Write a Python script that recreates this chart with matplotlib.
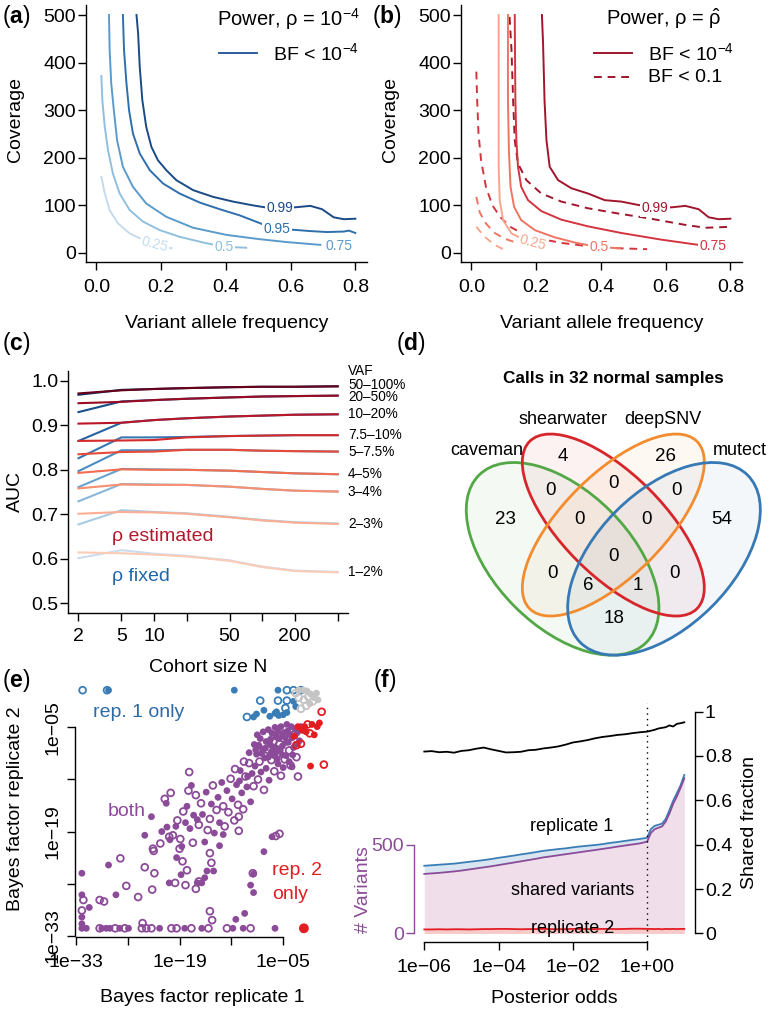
import matplotlib
matplotlib.use('Agg')
import matplotlib.pyplot as plt
from matplotlib.patches import Ellipse
from matplotlib.lines import Line2D

plt.rcParams['font.family'] = ['Liberation Sans', 'DejaVu Sans']
plt.rcParams['mathtext.fontset'] = 'custom'
plt.rcParams['mathtext.rm'] = 'Liberation Sans'
plt.rcParams['mathtext.it'] = 'Liberation Sans:italic'
plt.rcParams['mathtext.bf'] = 'Liberation Sans:bold'
plt.rcParams['axes.linewidth'] = 1.0

FS = 14  # main text size

# ---------------- data: panel (a) power contours, rho = 1e-4 ----------------
a_levels = ['0.25', '0.5', '0.75', '0.95', '0.99']
a_vaf = [
    [0.0154, 0.026, 0.041, 0.067, 0.103, 0.134, 0.180, 0.232],
    [0.0154, 0.0185, 0.026, 0.036, 0.051, 0.072, 0.103, 0.144, 0.196, 0.257, 0.330, 0.395, 0.463],
    [0.039, 0.041, 0.046, 0.054, 0.064, 0.082, 0.113, 0.154, 0.216, 0.299, 0.402, 0.504, 0.587, 0.692],
    [0.082, 0.0855, 0.093, 0.101, 0.113, 0.134, 0.165, 0.206, 0.257, 0.319, 0.381, 0.443, 0.515, 0.558, 0.604, 0.661, 0.712, 0.764, 0.780, 0.800],
    [0.124, 0.129, 0.134, 0.142, 0.154, 0.170, 0.190, 0.216, 0.247, 0.299, 0.360, 0.422, 0.484, 0.520, 0.566, 0.615, 0.661, 0.697, 0.733, 0.764, 0.800],
]
a_cov = [
    [160, 125, 90, 62, 41, 31, 18, 10],
    [372, 321, 265, 216, 167, 125, 90, 66, 48, 34, 22, 13, 11],
    [500, 426, 356, 300, 237, 181, 139, 104, 76, 53, 38, 29, 23, 17],
    [500, 426, 356, 300, 251, 209, 174, 146, 125, 106, 92, 79, 60, 52, 49, 46, 44, 45, 47, 42],
    [500, 461, 391, 321, 265, 223, 195, 174, 153, 132, 118, 108, 100, 96, 95, 96, 99, 92, 75, 71, 72],
]
a_lab_pos = [(0.180, 18), (0.395, 12), (0.749, 15), (0.558, 51), (0.566, 94)]
a_lab_rot = [-14, 0, 0, 0, 0]
a_colors = ['#C4DBED', '#90C0DE', '#5B9BCB', '#2F6FAB', '#1B4A86']

# ---------------- data: panel (b) power contours, rho = rho-hat ----------------
b_levels = ['0.25', '0.5', '0.75', '0.99']
b_vaf_solid = [
    [0.0844, 0.0844, 0.0875, 0.098, 0.124, 0.154, 0.185, 0.221],
    [0.113, 0.113, 0.116, 0.121, 0.132, 0.154, 0.196, 0.257, 0.319, 0.395, 0.46],
    [0.134, 0.136, 0.139, 0.144, 0.154, 0.175, 0.216, 0.278, 0.360, 0.463, 0.587, 0.702],
    [0.218, 0.2215, 0.226, 0.232, 0.242, 0.268, 0.309, 0.360, 0.412, 0.463, 0.515, 0.568, 0.620, 0.661, 0.702, 0.733, 0.764, 0.800],
]
b_cov_solid = [
    [500, 181, 111, 69, 41, 31, 21, 10],
    [500, 321, 216, 139, 97, 69, 48, 33, 22, 12, 10],
    [500, 321, 237, 181, 139, 111, 88, 70, 56, 42, 28, 17],
    [500, 440, 321, 237, 181, 153, 136, 125, 111, 108, 101, 95, 96, 99, 92, 75, 71, 72],
]
b_vaf_dash = [
    [0.0154, 0.041, 0.072, 0.098],
    [0.0154, 0.026, 0.045, 0.072, 0.103, 0.146, 0.200],
    [0.0154, 0.018, 0.022, 0.030, 0.045, 0.065, 0.090, 0.120, 0.160, 0.210, 0.280, 0.350, 0.450, 0.543],
    [0.118, 0.124, 0.129, 0.134, 0.144, 0.170, 0.216, 0.278, 0.360, 0.453, 0.546, 0.661, 0.723, 0.800],
]
b_cov_dash = [
    [55, 34, 17, 8],
    [118, 85, 62, 42, 30, 20, 11],
    [381, 321, 251, 195, 139, 100, 75, 55, 40, 30, 21, 15, 10, 8],
    [496, 426, 321, 237, 188, 153, 125, 108, 94, 83, 73, 59, 53, 55],
]
b_lab_pos = [(0.19, 21), (0.395, 12), (0.745, 14), (0.568, 94)]
b_lab_rot = [-15, 0, 0, 0]
b_colors = ['#F6A88E', '#EE7562', '#D4343F', '#A0162C']

# ---------------- data: panel (c) AUC vs cohort size ----------------
cohort_N = [2, 5, 10, 20, 50, 100, 200, 500]
vaf_classes = ['1–2%', '2–3%', '3–4%', '4–5%', '5–7.5%', '7.5–10%', '10–20%', '20–50%', '50–100%']
auc_estimated = [
    [0.614, 0.612, 0.609, 0.605, 0.595, 0.581, 0.572, 0.569],
    [0.701, 0.705, 0.704, 0.701, 0.693, 0.686, 0.681, 0.678],
    [0.758, 0.767, 0.766, 0.766, 0.762, 0.757, 0.753, 0.751],
    [0.793, 0.801, 0.800, 0.800, 0.798, 0.795, 0.792, 0.790],
    [0.835, 0.840, 0.841, 0.845, 0.845, 0.843, 0.842, 0.841],
    [0.865, 0.866, 0.867, 0.873, 0.876, 0.877, 0.878, 0.878],
    [0.904, 0.906, 0.912, 0.916, 0.920, 0.922, 0.924, 0.925],
    [0.950, 0.953, 0.957, 0.960, 0.963, 0.965, 0.966, 0.967],
    [0.972, 0.979, 0.982, 0.984, 0.986, 0.987, 0.987, 0.988],
]
auc_fixed = [
    [0.601, 0.619, 0.611, 0.606, 0.596, 0.582, 0.573, 0.570],
    [0.677, 0.709, 0.705, 0.702, 0.694, 0.687, 0.682, 0.679],
    [0.729, 0.768, 0.767, 0.766, 0.762, 0.757, 0.753, 0.751],
    [0.761, 0.802, 0.801, 0.800, 0.798, 0.795, 0.792, 0.790],
    [0.797, 0.844, 0.844, 0.845, 0.845, 0.843, 0.842, 0.841],
    [0.826, 0.873, 0.873, 0.874, 0.876, 0.877, 0.878, 0.878],
    [0.865, 0.906, 0.912, 0.916, 0.920, 0.922, 0.924, 0.925],
    [0.930, 0.954, 0.957, 0.960, 0.963, 0.965, 0.966, 0.967],
    [0.969, 0.980, 0.982, 0.984, 0.986, 0.987, 0.987, 0.988],
]
vaf_label_y = [0.569, 0.678, 0.751, 0.790, 0.841, 0.878, 0.925, 0.964, 0.991]
c_reds = ['#FCCBB5', '#FBAE93', '#F98F71', '#F26D4F', '#E84A37', '#D42C2A', '#BA1627', '#9A0B22', '#690019']
c_blues = ['#C9DDEF', '#A9CBE4', '#88B7D9', '#68A2CC', '#4C8DC0', '#3878B2', '#2763A0', '#184E8A', '#0B3568']

# ---------------- data: panel (d) Venn ----------------
venn_sets = ['caveman', 'shearwater', 'deepSNV', 'mutect']
venn_set_colors = ['#53A846', '#D7262B', '#F28C2E', '#3679B4']
venn_counts = [4, 26, 23, 54, 0, 0, 0, 0, 0, 0, 0, 0, 6, 1, 18]

# ---------------- data: panel (e) Bayes factor scatter (log10 BF) ----------------
purple_bf1 = [-32.2, -32.2, -32.2, -32.2, -32.0, -32.2, -32.2, -31.6, -31.2, -29.8, -29.5, -29.8, -29.2, -28.9, -28.4,
              -28.6, -27.6, -27.0, -27.7, -27.1, -26.4, -25.9, -26.2, -24.6, -24.1, -23.5, -24.0, -23.7, -22.8, -22.7,
              -22.5, -22.4, -21.7, -20.4, -20.3, -20.2, -20.1, -19.6, -19.4, -19.4, -19.0, -18.8, -18.6, -18.3, -18.2,
              -18.0, -17.7, -17.4, -17.4, -16.8, -16.6, -16.4, -16.0, -16.0, -15.6, -15.3, -15.1, -14.9, -14.9, -14.6,
              -14.7, -14.4, -13.6, -13.1, -12.6, -11.8, -11.4, -11.0, -11.0, -10.4, -10.2, -9.4, -9.4, -9.1, -9.0,
              -9.0, -7.6, -6.1, -6.5, -6.0, -5.5,
              -23.7, -22.8, -22.6, -21.6, -21.4, -21.0, -20.8, -20.7, -20.4, -19.9, -19.5, -19.3, -18.9, -18.7, -18.5,
              -18.2, -18.0, -17.8, -17.6, -17.2, -17.1, -16.8, -16.6, -16.4, -16.1, -15.9, -15.6, -15.4, -15.2, -14.9,
              -14.7, -14.5, -14.3, -14.0, -13.8, -13.6, -13.3, -13.1, -12.9, -12.6, -12.4, -12.1, -11.9, -11.6, -11.3,
              -11.1, -10.8, -10.6, -10.4, -10.1, -9.9, -9.6, -9.4, -9.2, -9.0, -8.8, -8.6, -8.4, -8.2, -8.0,
              -7.8, -7.6, -7.5, -7.3, -7.1, -6.9, -6.7, -6.6, -6.4, -6.2, -6.0, -5.9, -5.7, -5.5, -5.3,
              -5.1, -5.0, -4.8, -4.6, -4.4, -4.2, -4.0, -3.8, -3.6, -3.4, -3.2, -3.0, -2.8, -2.6,
              -8.5, -8.1, -7.7, -7.3, -7.0, -6.8, -6.5, -6.3, -6.1, -5.9, -5.7, -5.5, -5.3, -5.1, -4.9,
              -4.7, -4.5, -4.3, -4.1, -3.9, -3.7, -3.5, -3.3, -3.1, -8.9, -8.7, -8.3, -7.9, -7.4, -7.0,
              -6.6, -6.2, -5.8, -5.4, -5.0, -4.6, -4.2, -3.8, -9.6, -9.8, -10.3, -10.9, -11.5]
purple_bf2 = [-31.4, -30.5, -29.6, -32.0, -28.2, -27.5, -24.6, -32.0, -29.2, -32.0, -32.0, -28.2, -28.4, -32.0, -32.0,
              -23.5, -27.5, -22.6, -32.0, -32.0, -32.0, -32.0, -26.3, -27.8, -32.0, -32.0, -31.3, -23.8, -32.0, -26.8,
              -21.6, -24.6, -32.0, -25.9, -20.1, -13.8, -32.0, -25.9, -32.0, -22.5, -21.3, -24.8, -23.0, -32.0, -26.2,
              -24.2, -11.0, -12.8, -32.0, -26.7, -25.9, -25.7, -32.0, -25.9, -25.2, -24.3, -32.0, -21.9, -29.7, -30.9,
              -23.2, -24.3, -20.9, -19.4, -32.0, -32.0, -30.8, -18.9, -17.0, -32.0, -30.0, -32.0, -26.2, -24.6, -27.2,
              -24.7, -21.7, -32.0, -19.7, -19.6, -19.3,
              -19.5, -17.0, -21.3, -20.6, -19.0, -14.6, -15.2, -18.4, -19.7, -19.5, -18.3, -17.5, -20.0, -21.0, -16.3,
              -17.8, -15.6, -13.5, -18.6, -20.5, -16.8, -14.1, -17.4, -18.1, -15.2, -16.7, -20.4, -13.7, -18.8, -17.3,
              -15.3, -12.8, -19.2, -16.1, -14.4, -17.8, -12.4, -15.6, -18.3, -13.5, -16.4, -11.9, -14.6, -17.5, -12.7,
              -15.4, -10.8, -13.8, -16.0, -11.6, -13.0, -9.8, -15.0, -11.2, -12.9, -10.2, -8.6, -12.0, -9.6, -11.0,
              -7.9, -13.4, -9.1, -10.5, -8.0, -12.1, -6.6, -9.4, -7.6, -10.9, -8.4, -6.3, -9.9, -7.2, -11.5,
              -8.7, -6.1, -9.3, -7.0, -5.5, -8.1, -10.1, -6.4, -7.7, -5.2, -9.0, -11.6, -6.8, -4.9,
              -6.0, -6.5, -5.6, -6.9, -5.3, -7.2, -5.8, -6.9, -5.0, -7.8, -5.6, -6.5, -4.9, -7.5, -5.7,
              -6.3, -4.6, -7.0, -5.9, -4.9, -8.7, -6.0, -7.3, -5.7, -7.3, -8.0, -7.4, -8.5, -7.8, -9.0,
              -8.3, -8.8, -9.2, -8.1, -10.4, -8.8, -9.6, -10.3, -8.4, -11.6, -9.6, -12.2, -10.6]
purple_open = [0, 0, 1, 0, 1, 0, 0, 0, 0, 1, 0, 1, 1, 0, 0,
               0, 0, 1, 1, 0, 1, 0, 1, 1, 1, 1, 1, 1, 1, 1,
               1, 1, 0, 0, 0, 1, 1, 1, 1, 0, 1, 0, 1, 0, 1,
               1, 1, 0, 1, 1, 0, 1, 0, 0, 0, 0, 1, 1, 1, 1,
               1, 0, 0, 0, 1, 0, 0, 1, 1, 0, 0, 1, 0, 1, 0,
               0, 0, 0, 0, 1, 1,
               0, 0, 1, 1, 0, 1, 0, 0, 1, 1, 0, 1, 1, 0, 1,
               0, 0, 1, 0, 1, 0, 1, 0, 1, 1, 0, 0, 0, 1, 1,
               0, 1, 0, 1, 0, 0, 0, 1, 1, 0, 1, 1, 0, 1, 0,
               1, 0, 0, 1, 1, 0, 1, 0, 0, 1, 0, 0, 1, 1, 0,
               0, 1, 0, 0, 1, 0, 0, 1, 0, 1, 0, 0, 0, 1, 1,
               0, 0, 1, 0, 0, 1, 1, 0, 0, 0, 1, 1, 0, 0,
               0, 0, 0, 0, 0, 0, 0, 1, 0, 0, 0, 0, 0, 0, 0,
               0, 0, 0, 0, 0, 0, 1, 0, 0, 0, 0, 0, 0, 0, 0,
               0, 0, 0, 0, 0, 0, 0, 0, 0, 0, 1, 0, 1]
blue_bf1 = [-32.1, -28.8, -28.6, -11.6, -5.7, -4.5, -3.6, -2.6, -8.1, -5.7, -4.5, -3.6, -9.9, -9.0, -8.6, -7.6, -6.1, -5.6, -5.0, -4.5, -4.7, -3.3, -6.8, -5.9]
blue_bf2 = [0.0, 0.0, 0.0, 0.0, 0.0, 0.0, 0.0, 0.0, -1.4, -1.4, -1.4, -1.5, -3.6, -3.6, -3.2, -2.7, -3.1, -3.4, -3.3, -3.0, -2.4, -2.2, -3.5, -2.9]
blue_open = [1, 1, 0, 0, 0, 1, 1, 1, 1, 1, 1, 0, 1, 0, 0, 0, 0, 0, 0, 0, 1, 0, 0, 0]
grey_bf1 = [-2.9, -2.3, -1.8, -1.3, -0.8, -1.6, -2.2, -2.9, -3.3, -1.0, -1.9, -2.6, -0.5, -0.3, -1.4]
grey_bf2 = [0.0, 0.0, -0.1, -0.5, -1.0, -0.9, -1.3, -1.0, -0.4, -1.5, -2.1, -2.5, -0.4, -1.3, -1.8]
grey_open = [0, 0, 0, 0, 0, 1, 1, 1, 1, 1, 1, 1, 0, 0, 0]
red_bf1 = [-3.0, -2.4, -2.1, -1.7, -1.1, -0.4, -0.1, 0.2, -0.8, -1.4, -1.9, -3.2, -2.6, -3.5, -1.3, 0.5]
red_bf2 = [-4.9, -5.4, -4.9, -4.6, -4.6, -4.9, -4.4, -2.9, -6.0, -5.8, -5.6, -7.4, -7.2, -6.2, -10.2, -10.0]
red_open = [0, 0, 0, 1, 0, 0, 0, 1, 0, 1, 0, 1, 1, 0, 0, 1]
red_extra_bf1 = [-2.2]
red_extra_bf2 = [-32.0]

# ---------------- data: panel (f) replicate concordance ----------------
post_log10_odds = [-6.0, -5.8, -5.6, -5.4, -5.2, -5.0, -4.8, -4.6, -4.4, -4.2, -4.0, -3.8, -3.6, -3.4, -3.2, -3.0,
                   -2.8, -2.6, -2.4, -2.2, -2.0, -1.8, -1.6, -1.4, -1.2, -1.0, -0.8, -0.6, -0.4, -0.2, 0.0,
                   0.1, 0.2, 0.3, 0.4, 0.5, 0.6, 0.7, 0.8, 0.9, 1.0]
n_rep1 = [381, 384, 387, 390, 393, 398, 403, 408, 413, 419, 426, 432, 438, 445, 451, 458,
          465, 470, 475, 479, 485, 490, 494, 498, 503, 510, 515, 521, 527, 532, 539,
          588, 606, 612, 619, 645, 695, 748, 790, 835, 893]
n_shared = [335, 338, 341, 345, 349, 354, 360, 366, 372, 378, 385, 392, 399, 406, 413, 420,
            428, 434, 440, 446, 452, 458, 464, 470, 476, 482, 489, 495, 501, 507, 517,
            566, 587, 595, 603, 630, 676, 730, 772, 820, 874]
n_rep2 = [22, 22, 23, 22, 23, 23, 22, 23, 24, 24, 25, 25, 24, 23, 24, 24,
          25, 24, 23, 24, 25, 25, 24, 24, 25, 25, 24, 25, 26, 26, 25,
          25, 24, 25, 23, 25, 24, 25, 24, 25, 25]
shared_frac = [0.820, 0.822, 0.817, 0.819, 0.815, 0.823, 0.826, 0.833, 0.838, 0.830, 0.823, 0.816, 0.817, 0.819, 0.826, 0.828,
               0.834, 0.838, 0.843, 0.851, 0.861, 0.866, 0.872, 0.880, 0.886, 0.890, 0.895, 0.898, 0.903, 0.907, 0.910,
               0.914, 0.918, 0.924, 0.927, 0.930, 0.938, 0.933, 0.945, 0.948, 0.952]

# =====================================================================
W, H = 772, 1014
fig = plt.figure(figsize=(W / 100, H / 100), dpi=100)


def px_axes(x0, y0, x1, y1):
    return fig.add_axes([x0 / W, 1 - y1 / H, (x1 - x0) / W, (y1 - y0) / H])


def rstyle(ax, xpad=6, ypad=1.5):
    ax.spines['top'].set_visible(False)
    ax.spines['right'].set_visible(False)
    ax.tick_params(axis='both', direction='out', length=5.8, width=1.0, labelsize=FS)
    ax.tick_params(axis='x', pad=xpad)
    ax.tick_params(axis='y', pad=ypad)


def panel_label(x, y, letter):
    fig.text(x / W, 1 - y / H, r'($\mathbf{' + letter + r'}$)', fontsize=16.5, ha='left', va='center')


def contour_lines(ax, vafs, covs, colors, ls='-', lw=1.4):
    for v, c, col in zip(vafs, covs, colors):
        if ls == '--':
            ax.plot(v, c, color=col, lw=lw, dashes=(4, 3), zorder=2)
        else:
            ax.plot(v, c, color=col, lw=lw, zorder=2)


def contour_labels(ax, levels, pos, rots, colors):
    for lev, (x, y), r, col in zip(levels, pos, rots, colors):
        ax.text(x, y, lev, color=col, fontsize=10, ha='center', va='center', rotation=r, zorder=4,
                bbox=dict(facecolor='white', edgecolor='none', pad=1.0))


# ---------------- panel (a) ----------------
axA = px_axes(86, 5.5, 367, 262.5)
rstyle(axA)
axA.set_xlim(-0.032, 0.836)
axA.set_ylim(-20, 520)
contour_lines(axA, a_vaf, a_cov, a_colors)
contour_labels(axA, a_levels, a_lab_pos, a_lab_rot, a_colors)
axA.set_xticks([0, 0.2, 0.4, 0.6, 0.8])
axA.set_xticklabels(['0.0', '0.2', '0.4', '0.6', '0.8'])
axA.set_yticks([0, 100, 200, 300, 400, 500])
axA.set_ylabel('Coverage', fontsize=FS)
axA.yaxis.set_label_coords(-0.22, 0.556)
axA.set_xlabel('Variant allele frequency', fontsize=FS)
axA.xaxis.set_label_coords(0.5, -0.205)
fig.text(217 / W, 1 - 19 / H, r'Power, ρ = $10^{-4}$', fontsize=14.5, ha='left', va='center')
fig.add_artist(Line2D([219 / W, 257 / W], [1 - 53 / H, 1 - 53 / H], color='#2B5C99', lw=1.4))
fig.text(273 / W, 1 - 53 / H, r'BF < $10^{-4}$', fontsize=FS, ha='left', va='center')
panel_label(2, 17, 'a')

# ---------------- panel (b) ----------------
axB = px_axes(461, 5.5, 742, 262.5)
rstyle(axB)
axB.set_xlim(-0.032, 0.836)
axB.set_ylim(-20, 520)
contour_lines(axB, b_vaf_dash, b_cov_dash, b_colors, ls='--')
contour_lines(axB, b_vaf_solid, b_cov_solid, b_colors)
contour_labels(axB, b_levels, b_lab_pos, b_lab_rot, b_colors)
axB.set_xticks([0, 0.2, 0.4, 0.6, 0.8])
axB.set_xticklabels(['0.0', '0.2', '0.4', '0.6', '0.8'])
axB.set_yticks([0, 100, 200, 300, 400, 500])
axB.set_ylabel('Coverage', fontsize=FS)
axB.yaxis.set_label_coords(-0.22, 0.556)
axB.set_xlabel('Variant allele frequency', fontsize=FS)
axB.xaxis.set_label_coords(0.5, -0.205)
fig.text(606 / W, 1 - 19 / H, r'Power, ρ = $\hat{\mathrm{\rho}}$', fontsize=14.5, ha='left', va='center')
fig.add_artist(Line2D([594 / W, 632 / W], [1 - 53 / H, 1 - 53 / H], color='#A0162C', lw=1.4))
fig.add_artist(Line2D([594 / W, 632 / W], [1 - 77 / H, 1 - 77 / H], color='#A0162C', lw=1.4, dashes=(4, 3)))
fig.text(648 / W, 1 - 53 / H, r'BF < $10^{-4}$', fontsize=FS, ha='left', va='center')
fig.text(648 / W, 1 - 77 / H, 'BF < 0.1', fontsize=FS, ha='left', va='center')
panel_label(372, 17, 'b')

# ---------------- panel (c) ----------------
axC = px_axes(68, 371, 348, 613)
rstyle(axC, xpad=5, ypad=1)
axC.set_xscale('log')
axC.set_xlim(1.6, 623)
axC.set_ylim(0.4775, 1.0225)
for vals, col in zip(auc_fixed, c_blues):
    axC.plot(cohort_N, vals, color=col, lw=1.5)
for vals, col in zip(auc_estimated, c_reds):
    axC.plot(cohort_N, vals, color=col, lw=1.5)
axC.set_xticks(cohort_N)
axC.set_xticklabels(['2', '5', '10', '', '50', '', '200', ''])
axC.minorticks_off()
axC.set_yticks([0.5, 0.6, 0.7, 0.8, 0.9, 1.0])
axC.set_yticklabels(['0.5', '0.6', '0.7', '0.8', '0.9', '1.0'])
trC = axC.get_yaxis_transform()
for lab, yl in zip(vaf_classes, vaf_label_y):
    axC.text(1.0, yl, lab, transform=trC, fontsize=9.8, ha='left', va='center', clip_on=False)
axC.text(1.0, 1.022, 'VAF', transform=trC, fontsize=9.8, ha='left', va='center', clip_on=False)
axC.text(4.05, 0.649, 'ρ estimated', color='#B2182B', fontsize=14, ha='left', va='center')
axC.text(4.05, 0.559, 'ρ fixed', color='#2166AC', fontsize=14, ha='left', va='center')
axC.set_ylabel('AUC', fontsize=FS)
axC.yaxis.set_label_coords(-0.157, 0.5)
axC.set_xlabel('Cohort size N', fontsize=FS)
axC.xaxis.set_label_coords(0.5, -0.19)
panel_label(2, 343, 'c')

# ---------------- panel (d) ----------------
axD = px_axes(444.3, 379.7, 782.3, 717.7)
axD.set_xlim(0, 1)
axD.set_ylim(0, 1)
axD.axis('off')
ell_geom = [((0.35, 0.47), 0.70, 0.40, -45), ((0.50, 0.57), 0.70, 0.30, -45),
            ((0.50, 0.57), 0.70, 0.30, 45), ((0.65, 0.47), 0.70, 0.40, 45)]
for (cxy, w, h, ang), col in zip(ell_geom, venn_set_colors):
    axD.add_patch(Ellipse(cxy, w, h, angle=ang, facecolor=col, alpha=0.06, edgecolor='none'))
for (cxy, w, h, ang), col in zip(ell_geom, venn_set_colors):
    axD.add_patch(Ellipse(cxy, w, h, angle=ang, facecolor='none', edgecolor=col, lw=2.0))
region_pos = [(0.352, 0.772), (0.653, 0.772), (0.180, 0.585), (0.821, 0.585),
              (0.313, 0.672), (0.500, 0.693), (0.688, 0.672), (0.401, 0.585), (0.599, 0.585),
              (0.500, 0.478), (0.321, 0.427), (0.680, 0.427), (0.426, 0.390), (0.574, 0.390), (0.502, 0.294)]
for (x, y), n in zip(region_pos, venn_counts):
    axD.text(x, y, str(n), fontsize=13.5, ha='center', va='center')
set_pos = [(0.125, 0.792), (0.352, 0.881), (0.648, 0.881), (0.875, 0.792)]
for (x, y), s in zip(set_pos, venn_sets):
    axD.text(x, y, s, fontsize=13, ha='center', va='center', clip_on=False)
fig.text(613 / W, 1 - 378 / H, 'Calls in 32 normal samples', fontsize=12.3, fontweight='bold',
         ha='center', va='center')
panel_label(396, 343, 'd')

# ---------------- panel (e) ----------------
axE = px_axes(75, 680, 330, 936.7)
rstyle(axE, xpad=7, ypad=4)
axE.set_xlim(-33.13, 1.33)
axE.set_ylim(-33.13, 1.37)
axE.spines['left'].set_bounds(-33, -5)
axE.spines['bottom'].set_bounds(-33, -5)
ticksE = [-33, -26, -19, -12, -5]
axE.set_xticks(ticksE)
axE.set_xticklabels(['1e−33', '', '1e−19', '', '1e−05'])
axE.set_yticks(ticksE)
axE.set_yticklabels(['1e−33', '', '1e−19', '', '1e−05'], rotation=90, va='center')

C_PURPLE, C_BLUE, C_RED, C_GREY = '#8B4B98', '#3A7DB6', '#E31D22', '#C4C4C4'


def scatter_group(xs, ys, opens, col, s=24):
    xo = [x for x, o in zip(xs, opens) if o]
    yo = [y for y, o in zip(ys, opens) if o]
    xf = [x for x, o in zip(xs, opens) if not o]
    yf = [y for y, o in zip(ys, opens) if not o]
    axE.scatter(xf, yf, s=s, color=col, edgecolors='none', clip_on=False, zorder=3)
    axE.scatter(xo, yo, s=s, facecolors='none', edgecolors=col, linewidths=1.3, clip_on=False, zorder=3)


scatter_group(purple_bf1, purple_bf2, purple_open, C_PURPLE)
scatter_group(blue_bf1, blue_bf2, blue_open, C_BLUE)
scatter_group(red_bf1, red_bf2, red_open, C_RED)
scatter_group(grey_bf1, grey_bf2, grey_open, C_GREY)
axE.scatter(red_extra_bf1, red_extra_bf2, s=50, color=C_RED, edgecolors='none', zorder=3)
axE.text(-30.7, -3.0, 'rep. 1 only', color='#2C6BA8', fontsize=14, ha='left', va='center')
axE.text(-28.7, -16.3, 'both', color=C_PURPLE, fontsize=14, ha='left', va='center')
axE.text(-6.5, -24.2, 'rep. 2', color=C_RED, fontsize=14, ha='left', va='center')
axE.text(-6.5, -27.4, 'only', color=C_RED, fontsize=14, ha='left', va='center')
axE.set_ylabel('Bayes factor replicate 2', fontsize=FS)
axE.yaxis.set_label_coords(-0.2, 0.5)
axE.set_xlabel('Bayes factor replicate 1', fontsize=FS)
axE.xaxis.set_label_coords(0.5, -0.205)
panel_label(2, 681, 'e')

# ---------------- panel (f) ----------------
axF = px_axes(413.9, 702.8, 694.7, 942.2)
axF.set_xlim(-6.28, 1.28)
axF.set_ylim(-50, 1300)
C_FP = '#8B4B98'
axF.fill_between(post_log10_odds, 0, n_shared, color='#F0DEEA', lw=0)
axF.fill_between(post_log10_odds, n_shared, n_rep1, color='#D9E6F1', lw=0)
axF.fill_between(post_log10_odds, 0, n_rep2, color='#F7C9C9', lw=0)
axF.plot(post_log10_odds, n_rep1, color='#3A7DB6', lw=1.3)
axF.plot(post_log10_odds, n_shared, color=C_FP, lw=1.3)
axF.plot(post_log10_odds, n_rep2, color='#E31D22', lw=1.3)
axF.axvline(0, color='black', ls=(0, (1, 3)), lw=1.0)
for s in ['top', 'right']:
    axF.spines[s].set_visible(False)
axF.spines['left'].set_bounds(0, 500)
axF.spines['left'].set_color(C_FP)
axF.spines['bottom'].set_bounds(-6, 0)
axF.set_xticks([-6, -4, -2, 0])
axF.set_xticklabels(['1e−06', '1e−04', '1e−02', '1e+00'])
axF.set_yticks([0, 500])
axF.tick_params(axis='both', direction='out', length=5.8, width=1.0, labelsize=FS)
axF.tick_params(axis='x', pad=6)
axF.tick_params(axis='y', colors=C_FP, pad=1.5)
axF.text(-2.04, 601, 'replicate 1', fontsize=13, ha='center', va='center')
axF.text(-2.02, 244, 'shared variants', fontsize=13, ha='center', va='center')
axF.text(-2.01, 30, 'replicate 2', fontsize=13, ha='center', va='center')
axF.set_xlabel('Posterior odds', fontsize=FS)
axF.xaxis.set_label_coords(0.5, -0.2)
fig.text(363 / W, 1 - 890 / H, '# Variants', color=C_FP, fontsize=FS, rotation=90, ha='center', va='center')

axR = axF.twinx()
axR.set_ylim(-0.04, 1.04)
axR.plot(post_log10_odds, shared_frac, color='black', lw=1.3)
for s in ['top', 'left', 'bottom']:
    axR.spines[s].set_visible(False)
axR.spines['right'].set_bounds(0, 1)
axR.set_yticks([0, 0.2, 0.4, 0.6, 0.8, 1.0])
axR.set_yticklabels(['0', '0.2', '0.4', '0.6', '0.8', '1'])
axR.tick_params(axis='y', direction='out', length=5.8, width=1.0, labelsize=FS, pad=1.5)
axR.set_ylabel('Shared fraction', fontsize=FS)
axR.yaxis.set_label_coords(1.165, 0.5)
panel_label(373, 681, 'f')

fig.savefig('out.png', dpi=100)
